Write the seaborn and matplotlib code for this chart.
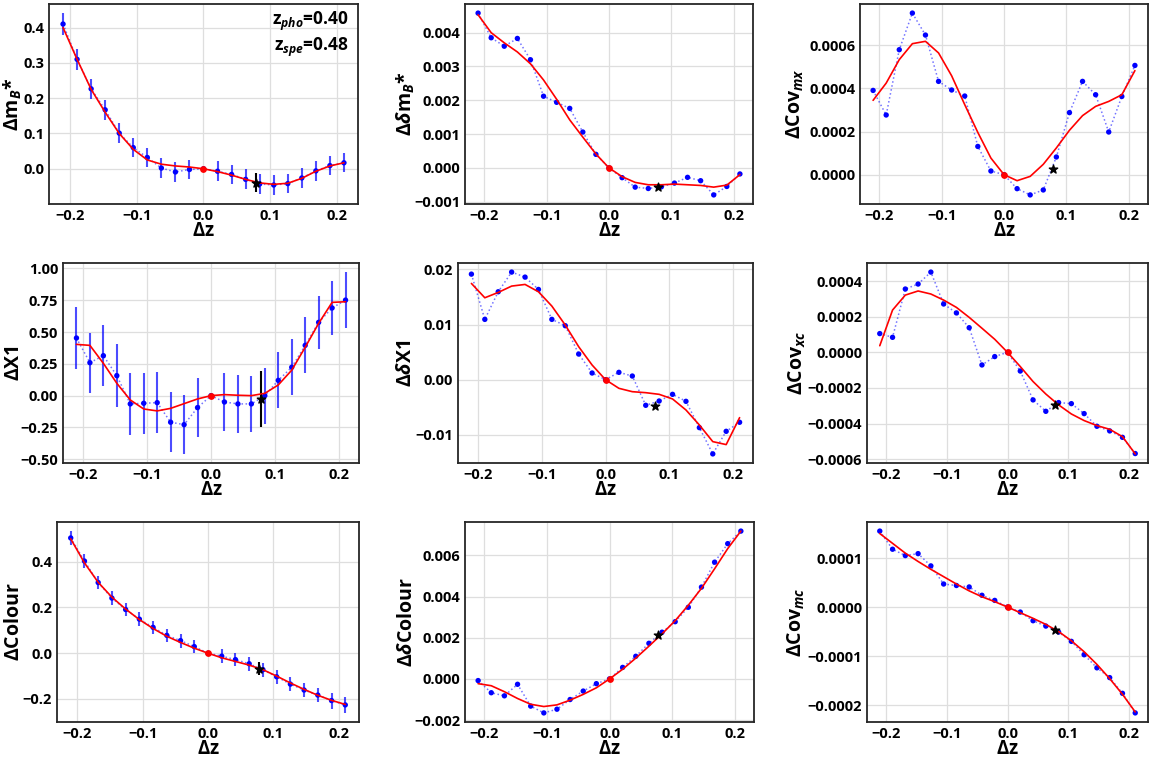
import matplotlib
matplotlib.use("Agg")
import matplotlib.pyplot as plt
from matplotlib.ticker import MultipleLocator
import seaborn as sns
import numpy as np

# grid of redshift offsets
dz = [-0.21, -0.189, -0.168, -0.147, -0.126, -0.105, -0.084, -0.063, -0.042, -0.021, 0.0,
      0.021, 0.042, 0.063, 0.084, 0.105, 0.126, 0.147, 0.168, 0.189, 0.21]
dz_star = 0.078
z_pho = 0.40
z_spe = 0.48

# mB*
mb = [0.41, 0.31, 0.2265, 0.167, 0.101, 0.06, 0.032, 0.002, -0.009, -0.002, 0.0,
      -0.007, -0.016, -0.030, -0.043, -0.046, -0.042, -0.026, -0.006, 0.009, 0.017]
mb_err = [0.031, 0.029, 0.029, 0.029, 0.029, 0.028, 0.028, 0.028, 0.028, 0.028, 0.0,
          0.028, 0.028, 0.028, 0.028, 0.028, 0.028, 0.028, 0.028, 0.027, 0.027]
mb_fit = [0.40, 0.31, 0.225, 0.16, 0.10, 0.055, 0.025, 0.013, 0.008, 0.005, 0.0,
          -0.008, -0.018, -0.030, -0.040, -0.044, -0.041, -0.027, -0.007, 0.008, 0.017]
mb_star, mb_star_err = -0.039, 0.028

# delta mB*
dmb = [0.00458, 0.00385, 0.0036, 0.00383, 0.0032, 0.00212, 0.00194, 0.00176, 0.00106, 0.0004, 0.0,
       -0.00029, -0.00057, -0.00061, -0.00056, -0.00045, -0.00028, -0.00038, -0.0008, -0.00055, -0.00018]
dmb_fit = [0.00453, 0.004, 0.0037, 0.00343, 0.00308, 0.0026, 0.00203, 0.00142, 0.00091, 0.00041, 0.0,
           -0.00026, -0.00043, -0.0005, -0.0005, -0.00048, -0.0005, -0.00052, -0.00057, -0.00051, -0.0002]
dmb_star = -0.00058

# Cov_mx
cmx = [0.000391, 0.000277, 0.00058, 0.00075, 0.000648, 0.000433, 0.000393, 0.000365, 0.000131, 0.000017, 0.0,
       -0.000065, -0.000094, -0.000071, 0.000082, 0.000288, 0.000433, 0.000371, 0.000198, 0.000363, 0.000507]
cmx_fit = [0.000345, 0.000425, 0.000534, 0.000608, 0.000619, 0.000565, 0.000459, 0.000325, 0.000196, 0.000077, 0.0,
           -0.000028, -0.000008, 0.000048, 0.000124, 0.000206, 0.000274, 0.000317, 0.00034, 0.000371, 0.000483]
cmx_star = 0.000025

# X1
x1 = [0.453, 0.259, 0.314, 0.157, -0.065, -0.06, -0.055, -0.209, -0.228, -0.094, 0.0,
      -0.05, -0.065, -0.065, 0.0, 0.12, 0.223, 0.395, 0.576, 0.689, 0.751]
x1_err = [0.245, 0.235, 0.24, 0.245, 0.245, 0.24, 0.24, 0.235, 0.23, 0.23, 0.0,
          0.23, 0.23, 0.22, 0.22, 0.22, 0.22, 0.22, 0.21, 0.215, 0.22]
x1_fit = [0.403, 0.395, 0.254, 0.097, -0.034, -0.105, -0.12, -0.10, -0.063, -0.026, 0.0,
          0.008, 0.003, 0.0, 0.018, 0.084, 0.20, 0.38, 0.568, 0.733, 0.738]
x1_star, x1_star_err = -0.024, 0.22

# delta X1
dx1 = [0.01915, 0.01094, 0.01595, 0.01952, 0.01861, 0.01637, 0.01094, 0.00979, 0.00465, 0.00121, 0.0,
       0.00133, 0.00066, -0.00465, -0.00387, -0.00266, -0.00393, -0.0087, -0.01347, -0.00937, -0.00773]
dx1_fit = [0.01746, 0.01486, 0.01583, 0.01698, 0.01728, 0.01595, 0.01335, 0.00991, 0.00598, 0.00266, 0.0,
           -0.00157, -0.00218, -0.00236, -0.00266, -0.0035, -0.0055, -0.00822, -0.01124, -0.01178, -0.00689]
dx1_star = -0.00483

# Cov_xc
cxc = [0.000105, 0.000084, 0.000355, 0.000383, 0.00045, 0.000271, 0.000221, 0.000138, -0.000071, -0.000024, 0.0,
       -0.000105, -0.000267, -0.000331, -0.000282, -0.000288, -0.000344, -0.000415, -0.000441, -0.000477, -0.000568]
cxc_fit = [0.000037, 0.000237, 0.000321, 0.000344, 0.000327, 0.000293, 0.000252, 0.000196, 0.000135, 0.000073, 0.0,
           -0.00008, -0.000164, -0.000234, -0.000295, -0.000346, -0.000383, -0.000411, -0.000432, -0.000473, -0.00057]
cxc_star = -0.000295

# Colour
col = [0.504, 0.403, 0.309, 0.241, 0.191, 0.149, 0.113, 0.078, 0.055, 0.029, 0.0,
       -0.013, -0.028, -0.046, -0.072, -0.103, -0.135, -0.161, -0.183, -0.207, -0.226]
col_err = [0.03, 0.03, 0.03, 0.03, 0.03, 0.03, 0.03, 0.03, 0.03, 0.03, 0.0,
           0.03, 0.03, 0.03, 0.03, 0.03, 0.03, 0.03, 0.03, 0.035, 0.035]
col_fit = [0.50, 0.395, 0.31, 0.245, 0.193, 0.147, 0.108, 0.074, 0.047, 0.022, 0.0,
           -0.02, -0.036, -0.052, -0.072, -0.10, -0.13, -0.158, -0.184, -0.206, -0.224]
col_star, col_star_err = -0.067, 0.03

# delta Colour
dcol = [-0.00008, -0.00067, -0.00082, -0.00026, -0.00132, -0.00165, -0.00147, -0.001, -0.00059, -0.00023, 0.0,
        0.00056, 0.0011, 0.00173, 0.00227, 0.00278, 0.00348, 0.00446, 0.00567, 0.00657, 0.00718]
dcol_fit = [-0.00023, -0.00033, -0.00062, -0.00095, -0.00123, -0.00134, -0.00126, -0.00103, -0.00075, -0.00043, 0.0,
            0.00047, 0.00101, 0.00159, 0.00219, 0.00283, 0.00358, 0.0044, 0.00535, 0.00633, 0.00718]
dcol_star = 0.00213

# Cov_mc
cmc = [0.000155, 0.000118, 0.000105, 0.000109, 0.000084, 0.000047, 0.000044, 0.000041, 0.000024, 0.0000136, 0.0,
       -0.0000102, -0.0000279, -0.0000388, -0.000051, -0.00007, -0.0000973, -0.000124, -0.000144, -0.000176, -0.000216]
cmc_fit = [0.00015, 0.00013, 0.00011, 0.000093, 0.000077, 0.000062, 0.000047, 0.000033, 0.000021, 0.000011, 0.0,
           -0.0000116, -0.000023, -0.0000354, -0.00005, -0.0000687, -0.0000912, -0.000117, -0.000146, -0.000178, -0.000214]
cmc_star = -0.0000469

sns.set_theme(style="whitegrid")
plt.rcParams['font.family'] = ['Open Sans', 'DejaVu Sans']
plt.rcParams['font.weight'] = 'bold'
plt.rcParams['axes.labelweight'] = 'bold'
plt.rcParams['mathtext.fontset'] = 'custom'
plt.rcParams['mathtext.rm'] = 'Open Sans:bold'
plt.rcParams['mathtext.it'] = 'Open Sans:italic:bold'
plt.rcParams['mathtext.bf'] = 'Open Sans:bold'
plt.rcParams['axes.unicode_minus'] = True
plt.rcParams['text.color'] = 'black'
plt.rcParams['axes.labelcolor'] = 'black'
plt.rcParams['xtick.color'] = 'black'
plt.rcParams['ytick.color'] = 'black'

panels = [
    (mb, mb_fit, mb_err, mb_star, mb_star_err, r'$\Delta$m$_B$*', None),
    (dmb, dmb_fit, None, dmb_star, None, r'$\Delta\delta$m$_B$*', None),
    (cmx, cmx_fit, None, cmx_star, None, r'$\Delta$Cov$_{mx}$', None),
    (x1, x1_fit, x1_err, x1_star, x1_star_err, r'$\Delta$X1', 0.25),
    (dx1, dx1_fit, None, dx1_star, None, r'$\Delta\delta$X1', None),
    (cxc, cxc_fit, None, cxc_star, None, r'$\Delta$Cov$_{xc}$', None),
    (col, col_fit, col_err, col_star, col_star_err, r'$\Delta$Colour', None),
    (dcol, dcol_fit, None, dcol_star, None, r'$\Delta\delta$Colour', None),
    (cmc, cmc_fit, None, cmc_star, None, r'$\Delta$Cov$_{mc}$', None),
]

# axes boxes in pixels: left, right, top, bottom, right edge of y label
W, H = 1155, 758
boxes = [(49, 358, 4, 204, 24), (465, 753, 4, 204, 417), (860, 1148, 4, 204, 806),
         (63, 359, 263, 463, 24), (458, 753, 263, 463, 416), (867, 1148, 263, 463, 808),
         (57, 359, 522, 722, 24), (465, 754, 522, 722, 417), (867, 1148, 522, 722, 807)]

fig = plt.figure(figsize=(W / 100, H / 100), dpi=100)

for (vals, fit, err, star, star_err, ylab, ystep), (l, r, t, b, lx) in zip(panels, boxes):
    ax = fig.add_axes([l / W, 1 - b / H, (r - l) / W, (b - t) / H])
    if err is not None:
        ax.errorbar(dz, vals, yerr=err, fmt='none', ecolor='blue', elinewidth=1.5, alpha=0.7, zorder=2)
        ax.errorbar([dz_star], [star], yerr=[star_err], fmt='none', ecolor='black', elinewidth=1.5, zorder=5)
    sns.lineplot(x=dz, y=vals, ax=ax, color='blue', ls=':', lw=1.1, alpha=0.55, zorder=3)
    sns.scatterplot(x=dz, y=vals, ax=ax, color='blue', s=15, edgecolor='none', zorder=4)
    sns.lineplot(x=dz, y=fit, ax=ax, color='red', lw=1.2, zorder=5)
    ax.scatter([0.0], [0.0], color='red', s=15, zorder=6)
    ax.scatter([dz_star], [star], color='black', marker='*', s=40, zorder=7)

    if ystep is not None:
        ax.yaxis.set_major_locator(MultipleLocator(ystep))
    ax.set_xlabel(r'$\Delta$z', fontsize=13.5, fontweight='bold', labelpad=-1)
    ax.set_ylabel(ylab, fontsize=14, fontweight='bold')
    ax.yaxis.set_label_coords((lx - l) / (r - l), 0.5)
    ax.tick_params(labelsize=10.5, length=2, width=1, color='black', pad=1.5)
    for lab in ax.get_xticklabels() + ax.get_yticklabels():
        lab.set_fontweight('bold')
    ax.grid(True, color='0.87', lw=0.9)
    for sp in ax.spines.values():
        sp.set_color('0.15')
        sp.set_linewidth(1.3)
    ax.set_facecolor('white')

fig.axes[0].text(0.97, 0.97, 'z$_{pho}$=%.2f\nz$_{spe}$=%.2f' % (z_pho, z_spe),
                 transform=fig.axes[0].transAxes, ha='right', va='top',
                 fontsize=12.5, fontweight='bold', linespacing=1.15)

fig.savefig('out.png', dpi=100, facecolor='white')
